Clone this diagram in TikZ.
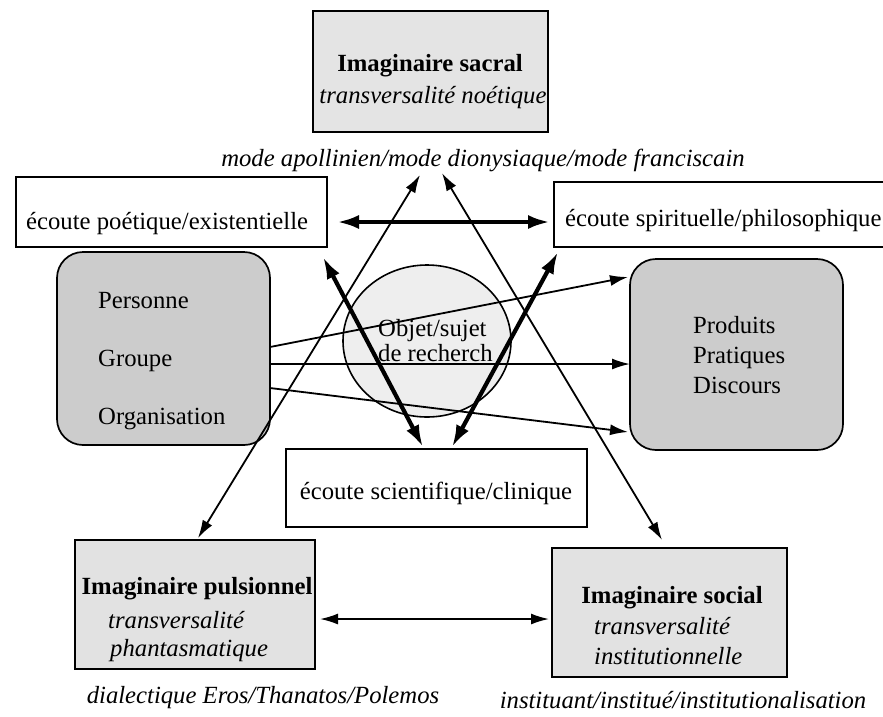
\documentclass[tikz,border=0pt]{standalone}
\usepackage{fontspec}
\setmainfont{Liberation Serif}
\usetikzlibrary{arrows.meta,shapes.geometric}
\definecolor{fillTop}{HTML}{E4E4E4}
\definecolor{fillRound}{HTML}{CCCCCC}
\definecolor{fillBot}{HTML}{E2E2E2}
\definecolor{fillEll}{HTML}{EEEEEE}
\begin{document}
\begin{tikzpicture}[x=1pt,y=-1pt,
  every node/.style={inner sep=0pt, font=\fontsize{24.7}{29}\selectfont},
  box/.style={draw, line width=1.7pt, rectangle},
  rbox/.style={draw, line width=1.7pt, rectangle, rounded corners=26pt, fill=fillRound},
  thinarr/.style={line width=1.8pt, -{Latex[length=18pt,width=11pt]}},
  thindbl/.style={line width=1.8pt, {Latex[length=18pt,width=11pt]}-{Latex[length=18pt,width=11pt]}},
  thickdbl/.style={line width=4.2pt, {Latex[length=22pt,width=14pt]}-{Latex[length=22pt,width=14pt]}},
  txt/.style={text height=17pt, text depth=5pt},
  lt/.style={txt, anchor=west},
  ct/.style={txt, anchor=center}
]
\useasboundingbox (0,0) rectangle (883,716);
\fill[white] (0,0) rectangle (883,716);

% boxes
\node[box, fill=fillTop, minimum width=235pt, minimum height=121pt] (sacral) at (430.5,71.5) {};
\node[box, fill=white, minimum width=311pt, minimum height=70pt] (poet) at (171.5,212) {};
\node[box, fill=white, minimum width=336pt, minimum height=65pt] (spirit) at (722,214.5) {};
\node[rbox, minimum width=213pt, minimum height=193pt] (left) at (163.5,348.5) {};
\node[rbox, minimum width=213pt, minimum height=191pt] (right) at (736.5,354.5) {};
\node[ellipse, draw, line width=1.6pt, fill=fillEll, minimum width=168pt, minimum height=152pt] (obj) at (427,341) {};
\node[box, fill=white, minimum width=301pt, minimum height=78pt] (clin) at (436.5,488) {};
\node[box, fill=fillBot, minimum width=240pt, minimum height=129pt] (puls) at (195,604.5) {};
\node[box, fill=fillBot, minimum width=235pt, minimum height=129pt] (social) at (669.5,612.5) {};

% texts
\node[ct] (sacralA) at (430,65) {\bfseries Imaginaire sacral};
\node[ct] (sacralB) at (433,97) {\itshape transversalité noétique};
\node[ct] (mode) at (483,160) {\itshape mode apollinien/mode dionysiaque/mode franciscain};
\node[lt] (poetT) at (26,223) {écoute poétique/existentielle};
\node[lt] (spiritT) at (565,220) {écoute spirituelle/philosophique};
\node[lt] (pers) at (98,302) {Personne};
\node[lt] (grp) at (98,360) {Groupe};
\node[lt] (org) at (98,418) {Organisation};
\node[lt] (prod) at (693,327) {Produits};
\node[lt] (prat) at (693,357) {Pratiques};
\node[lt] (disc) at (693,387) {Discours};
\node[lt] (objA) at (378,330) {Objet/sujet};
\node[lt] (objB) at (378,355) {de recherch};
\node[ct] (clinT) at (436,493) {écoute scientifique/clinique};
\node[ct] (pulsA) at (197,588) {\bfseries Imaginaire pulsionnel};
\node[lt] (pulsB) at (108,622) {\itshape transversalité};
\node[lt] (pulsC) at (110,650) {\itshape phantasmatique};
\node[ct] (socA) at (672,597) {\bfseries Imaginaire social};
\node[lt] (socB) at (594,628) {\itshape transversalité};
\node[lt] (socC) at (594,658) {\itshape institutionnelle};
\node[ct] (dial) at (263,697) {\itshape dialectique Eros/Thanatos/Polemos};
\node[ct] (inst) at (683,702) {\itshape instituant/institué/institutionalisation};

% connector end points
\coordinate (tA) at (420,175);
\coordinate (tB) at (442,173);
\coordinate (pulsTop) at (198,538);
\coordinate (socTop) at (662,540);
\coordinate (poetBR) at (323,257);
\coordinate (spiritBL) at (558,252);
\coordinate (clinL) at (423,447);
\coordinate (clinR) at (452,447);
\coordinate (h1) at (337,222);
\coordinate (h2) at (550,222);
\coordinate (l1) at (270,347);
\coordinate (l2) at (270,364);
\coordinate (l3) at (270,388);
\coordinate (r1) at (628,277);
\coordinate (r2) at (630,364);
\coordinate (r3) at (628,432);
\coordinate (b1) at (320,619);
\coordinate (b2) at (549,619);

% connectors
\draw[thinarr] (l1) -- (r1);
\draw[thinarr] (l2) -- (r2);
\draw[thinarr] (l3) -- (r3);
\draw[thindbl] (tA) -- (pulsTop);
\draw[thindbl] (tB) -- (socTop);
\draw[thickdbl] (poetBR) -- (clinL);
\draw[thickdbl] (clinR) -- (spiritBL);
\draw[thickdbl] (h1) -- (h2);
\draw[thindbl] (b1) -- (b2);
\end{tikzpicture}
\end{document}
